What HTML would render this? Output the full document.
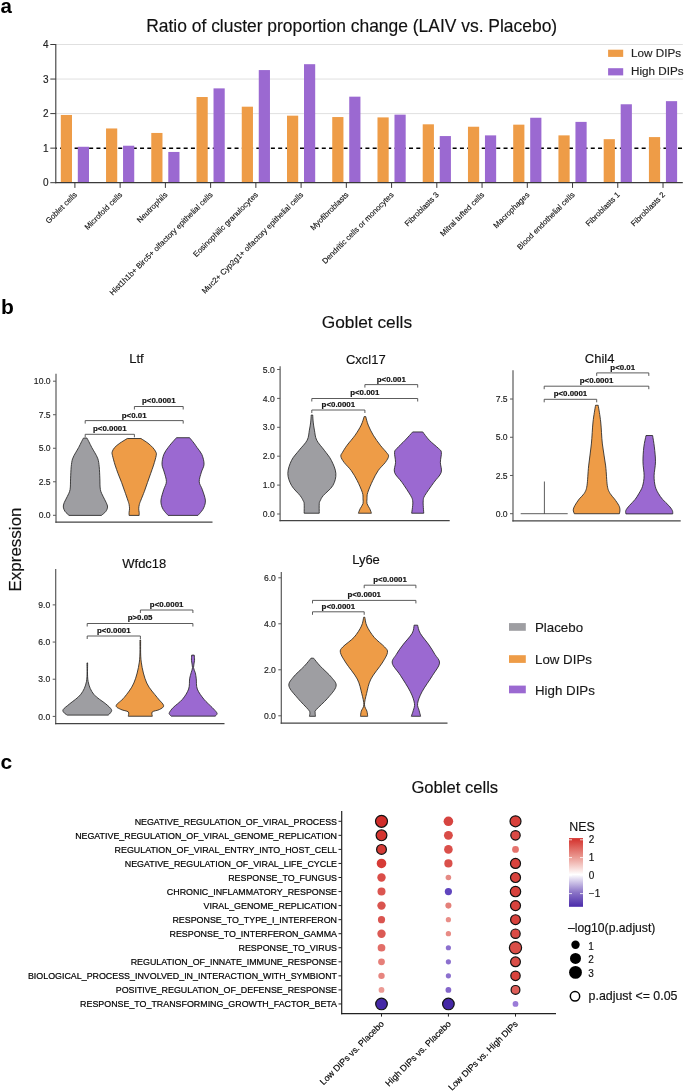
<!DOCTYPE html>
<html><head><meta charset="utf-8"><style>
html,body{margin:0;padding:0;background:#fff;overflow:hidden;}
svg{display:block;will-change:transform;}
text{font-family:"Liberation Sans", sans-serif;}
text.t{stroke:currentColor;}
</style></head><body>
<svg width="685" height="1092" viewBox="0 0 685 1092">
<rect width="685" height="1092" fill="#fff"/>
<text x="0.50" y="13.00" font-size="20.5" text-anchor="start" font-weight="bold" fill="#000" >a</text>
<text x="1.00" y="314.10" font-size="21" text-anchor="start" font-weight="bold" fill="#000" >b</text>
<text x="0.50" y="769.00" font-size="21" text-anchor="start" font-weight="bold" fill="#000" >c</text>
<line x1="55.80" y1="113.60" x2="682.80" y2="113.60" stroke="#dcdcdc" stroke-width="0.9" />
<line x1="55.80" y1="79.05" x2="682.80" y2="79.05" stroke="#dcdcdc" stroke-width="0.9" />
<line x1="55.80" y1="44.50" x2="682.80" y2="44.50" stroke="#dcdcdc" stroke-width="0.9" />
<line x1="55.80" y1="148.30" x2="682.80" y2="148.30" stroke="#000" stroke-width="1.6" stroke-dasharray="4.0 3.27" stroke-dashoffset="3.0"/>
<rect x="60.80" y="114.98" width="11.20" height="67.72" fill="#EE9C47"/>
<rect x="77.80" y="146.77" width="11.20" height="35.93" fill="#9B69D1"/>
<line x1="74.90" y1="182.70" x2="74.90" y2="187.90" stroke="#3a3a3a" stroke-width="1" />
<text x="0.00" y="0.00" font-size="7.8" text-anchor="end" font-weight="normal" fill="#111" stroke="#111" stroke-width="0.15" transform="translate(77.50,195.30) rotate(-45)">Goblet cells</text>
<rect x="106.04" y="128.46" width="11.20" height="54.24" fill="#EE9C47"/>
<rect x="123.04" y="145.73" width="11.20" height="36.97" fill="#9B69D1"/>
<line x1="120.14" y1="182.70" x2="120.14" y2="187.90" stroke="#3a3a3a" stroke-width="1" />
<text x="0.00" y="0.00" font-size="7.8" text-anchor="end" font-weight="normal" fill="#111" stroke="#111" stroke-width="0.15" transform="translate(122.74,195.30) rotate(-45)">Microfold cells</text>
<rect x="151.28" y="132.95" width="11.20" height="49.75" fill="#EE9C47"/>
<rect x="168.28" y="151.95" width="11.20" height="30.75" fill="#9B69D1"/>
<line x1="165.38" y1="182.70" x2="165.38" y2="187.90" stroke="#3a3a3a" stroke-width="1" />
<text x="0.00" y="0.00" font-size="7.8" text-anchor="end" font-weight="normal" fill="#111" stroke="#111" stroke-width="0.15" transform="translate(167.98,195.30) rotate(-45)">Neutrophils</text>
<rect x="196.52" y="97.02" width="11.20" height="85.68" fill="#EE9C47"/>
<rect x="213.52" y="88.38" width="11.20" height="94.32" fill="#9B69D1"/>
<line x1="210.62" y1="182.70" x2="210.62" y2="187.90" stroke="#3a3a3a" stroke-width="1" />
<text x="0.00" y="0.00" font-size="7.8" text-anchor="end" font-weight="normal" fill="#111" stroke="#111" stroke-width="0.15" transform="translate(213.22,195.30) rotate(-45)">Hist1h1b+ Birc5+ olfactory epithelial cells</text>
<rect x="241.76" y="106.69" width="11.20" height="76.01" fill="#EE9C47"/>
<rect x="258.76" y="70.07" width="11.20" height="112.63" fill="#9B69D1"/>
<line x1="255.86" y1="182.70" x2="255.86" y2="187.90" stroke="#3a3a3a" stroke-width="1" />
<text x="0.00" y="0.00" font-size="7.8" text-anchor="end" font-weight="normal" fill="#111" stroke="#111" stroke-width="0.15" transform="translate(258.46,195.30) rotate(-45)">Eosinophilic granulocytes</text>
<rect x="287.00" y="115.67" width="11.20" height="67.03" fill="#EE9C47"/>
<rect x="304.00" y="64.19" width="11.20" height="118.51" fill="#9B69D1"/>
<line x1="301.10" y1="182.70" x2="301.10" y2="187.90" stroke="#3a3a3a" stroke-width="1" />
<text x="0.00" y="0.00" font-size="7.8" text-anchor="end" font-weight="normal" fill="#111" stroke="#111" stroke-width="0.15" transform="translate(303.70,195.30) rotate(-45)">Muc2+ Cyp2g1+ olfactory epithelial cells</text>
<rect x="332.24" y="117.05" width="11.20" height="65.64" fill="#EE9C47"/>
<rect x="349.24" y="96.67" width="11.20" height="86.03" fill="#9B69D1"/>
<line x1="346.34" y1="182.70" x2="346.34" y2="187.90" stroke="#3a3a3a" stroke-width="1" />
<text x="0.00" y="0.00" font-size="7.8" text-anchor="end" font-weight="normal" fill="#111" stroke="#111" stroke-width="0.15" transform="translate(348.94,195.30) rotate(-45)">Myofibroblasts</text>
<rect x="377.48" y="117.40" width="11.20" height="65.30" fill="#EE9C47"/>
<rect x="394.48" y="114.64" width="11.20" height="68.06" fill="#9B69D1"/>
<line x1="391.58" y1="182.70" x2="391.58" y2="187.90" stroke="#3a3a3a" stroke-width="1" />
<text x="0.00" y="0.00" font-size="7.8" text-anchor="end" font-weight="normal" fill="#111" stroke="#111" stroke-width="0.15" transform="translate(394.18,195.30) rotate(-45)">Dendritic cells or monocytes</text>
<rect x="422.72" y="124.31" width="11.20" height="58.39" fill="#EE9C47"/>
<rect x="439.72" y="136.06" width="11.20" height="46.64" fill="#9B69D1"/>
<line x1="436.82" y1="182.70" x2="436.82" y2="187.90" stroke="#3a3a3a" stroke-width="1" />
<text x="0.00" y="0.00" font-size="7.8" text-anchor="end" font-weight="normal" fill="#111" stroke="#111" stroke-width="0.15" transform="translate(439.42,195.30) rotate(-45)">Fibroblasts 3</text>
<rect x="467.96" y="126.73" width="11.20" height="55.97" fill="#EE9C47"/>
<rect x="484.96" y="135.37" width="11.20" height="47.33" fill="#9B69D1"/>
<line x1="482.06" y1="182.70" x2="482.06" y2="187.90" stroke="#3a3a3a" stroke-width="1" />
<text x="0.00" y="0.00" font-size="7.8" text-anchor="end" font-weight="normal" fill="#111" stroke="#111" stroke-width="0.15" transform="translate(484.66,195.30) rotate(-45)">Mitral tufted cells</text>
<rect x="513.20" y="124.66" width="11.20" height="58.04" fill="#EE9C47"/>
<rect x="530.20" y="117.75" width="11.20" height="64.95" fill="#9B69D1"/>
<line x1="527.30" y1="182.70" x2="527.30" y2="187.90" stroke="#3a3a3a" stroke-width="1" />
<text x="0.00" y="0.00" font-size="7.8" text-anchor="end" font-weight="normal" fill="#111" stroke="#111" stroke-width="0.15" transform="translate(529.90,195.30) rotate(-45)">Macrophages</text>
<rect x="558.44" y="135.37" width="11.20" height="47.33" fill="#EE9C47"/>
<rect x="575.44" y="121.89" width="11.20" height="60.81" fill="#9B69D1"/>
<line x1="572.54" y1="182.70" x2="572.54" y2="187.90" stroke="#3a3a3a" stroke-width="1" />
<text x="0.00" y="0.00" font-size="7.8" text-anchor="end" font-weight="normal" fill="#111" stroke="#111" stroke-width="0.15" transform="translate(575.14,195.30) rotate(-45)">Blood endothelial cells</text>
<rect x="603.68" y="139.17" width="11.20" height="43.53" fill="#EE9C47"/>
<rect x="620.68" y="104.27" width="11.20" height="78.43" fill="#9B69D1"/>
<line x1="617.78" y1="182.70" x2="617.78" y2="187.90" stroke="#3a3a3a" stroke-width="1" />
<text x="0.00" y="0.00" font-size="7.8" text-anchor="end" font-weight="normal" fill="#111" stroke="#111" stroke-width="0.15" transform="translate(620.38,195.30) rotate(-45)">Fibroblasts 1</text>
<rect x="648.92" y="137.09" width="11.20" height="45.61" fill="#EE9C47"/>
<rect x="665.92" y="101.16" width="11.20" height="81.54" fill="#9B69D1"/>
<line x1="663.02" y1="182.70" x2="663.02" y2="187.90" stroke="#3a3a3a" stroke-width="1" />
<text x="0.00" y="0.00" font-size="7.8" text-anchor="end" font-weight="normal" fill="#111" stroke="#111" stroke-width="0.15" transform="translate(665.62,195.30) rotate(-45)">Fibroblasts 2</text>
<line x1="55.80" y1="44.00" x2="55.80" y2="183.20" stroke="#3a3a3a" stroke-width="1.1" />
<line x1="55.30" y1="182.70" x2="682.80" y2="182.70" stroke="#3a3a3a" stroke-width="1.2" />
<line x1="50.30" y1="182.70" x2="55.80" y2="182.70" stroke="#3a3a3a" stroke-width="1" />
<text x="48.60" y="186.30" font-size="10" text-anchor="end" font-weight="normal" fill="#222" stroke="#222" stroke-width="0.15" >0</text>
<line x1="50.30" y1="148.15" x2="55.80" y2="148.15" stroke="#3a3a3a" stroke-width="1" />
<text x="48.60" y="151.75" font-size="10" text-anchor="end" font-weight="normal" fill="#222" stroke="#222" stroke-width="0.15" >1</text>
<line x1="50.30" y1="113.60" x2="55.80" y2="113.60" stroke="#3a3a3a" stroke-width="1" />
<text x="48.60" y="117.20" font-size="10" text-anchor="end" font-weight="normal" fill="#222" stroke="#222" stroke-width="0.15" >2</text>
<line x1="50.30" y1="79.05" x2="55.80" y2="79.05" stroke="#3a3a3a" stroke-width="1" />
<text x="48.60" y="82.65" font-size="10" text-anchor="end" font-weight="normal" fill="#222" stroke="#222" stroke-width="0.15" >3</text>
<line x1="50.30" y1="44.50" x2="55.80" y2="44.50" stroke="#3a3a3a" stroke-width="1" />
<text x="48.60" y="48.10" font-size="10" text-anchor="end" font-weight="normal" fill="#222" stroke="#222" stroke-width="0.15" >4</text>
<text x="351.70" y="32.20" font-size="17.45" text-anchor="middle" font-weight="normal" fill="#111" stroke="#111" stroke-width="0.15" >Ratio of cluster proportion change (LAIV vs. Placebo)</text>
<rect x="608.10" y="49.70" width="15.10" height="7.20" fill="#EE9C47"/>
<rect x="608.10" y="68.20" width="15.10" height="7.20" fill="#9B69D1"/>
<text x="631.00" y="56.80" font-size="11.7" text-anchor="start" font-weight="normal" fill="#222" stroke="#222" stroke-width="0.15" >Low DIPs</text>
<text x="631.00" y="75.20" font-size="11.7" text-anchor="start" font-weight="normal" fill="#222" stroke="#222" stroke-width="0.15" >High DIPs</text>
<text x="366.90" y="327.60" font-size="17.3" text-anchor="middle" font-weight="normal" fill="#111" stroke="#111" stroke-width="0.15" >Goblet cells</text>
<text x="0.00" y="0.00" font-size="17" text-anchor="middle" font-weight="normal" fill="#111" stroke="#111" stroke-width="0.15" transform="translate(21.3,549.5) rotate(-90)">Expression</text>
<line x1="56.00" y1="373.70" x2="56.00" y2="522.80" stroke="#5a5a5a" stroke-width="1.2" />
<line x1="55.40" y1="522.20" x2="212.50" y2="522.20" stroke="#444" stroke-width="1.2" />
<line x1="53.00" y1="515.30" x2="56.00" y2="515.30" stroke="#5a5a5a" stroke-width="1" />
<text x="50.60" y="518.40" font-size="8.6" text-anchor="end" font-weight="normal" fill="#222" stroke="#222" stroke-width="0.15" >0.0</text>
<line x1="53.00" y1="481.77" x2="56.00" y2="481.77" stroke="#5a5a5a" stroke-width="1" />
<text x="50.60" y="484.88" font-size="8.6" text-anchor="end" font-weight="normal" fill="#222" stroke="#222" stroke-width="0.15" >2.5</text>
<line x1="53.00" y1="448.25" x2="56.00" y2="448.25" stroke="#5a5a5a" stroke-width="1" />
<text x="50.60" y="451.35" font-size="8.6" text-anchor="end" font-weight="normal" fill="#222" stroke="#222" stroke-width="0.15" >5.0</text>
<line x1="53.00" y1="414.72" x2="56.00" y2="414.72" stroke="#5a5a5a" stroke-width="1" />
<text x="50.60" y="417.82" font-size="8.6" text-anchor="end" font-weight="normal" fill="#222" stroke="#222" stroke-width="0.15" >7.5</text>
<line x1="53.00" y1="381.20" x2="56.00" y2="381.20" stroke="#5a5a5a" stroke-width="1" />
<text x="50.60" y="384.30" font-size="8.6" text-anchor="end" font-weight="normal" fill="#222" stroke="#222" stroke-width="0.15" >10.0</text>
<text x="136.50" y="363.00" font-size="13" text-anchor="middle" font-weight="normal" fill="#111" stroke="#111" stroke-width="0.15" >Ltf</text>
<path d="M83.47,438.06 L86.97,438.06 C87.26,438.61 87.92,439.81 88.72,441.39 C89.52,442.96 90.77,445.62 91.79,447.52 C92.81,449.42 93.83,450.88 94.85,452.77 C95.87,454.67 97.19,456.57 97.92,458.90 C98.65,461.24 98.91,463.58 99.23,466.79 C99.55,470.00 99.66,474.38 99.85,478.17 C100.04,481.97 99.82,486.49 100.37,489.56 C100.93,492.63 102.20,494.38 103.17,496.57 C104.15,498.76 105.51,500.95 106.24,502.70 C106.97,504.45 107.63,505.62 107.55,507.08 C107.48,508.54 106.82,510.07 105.80,511.46 C104.78,512.84 102.15,514.74 101.42,515.40 L69.01,515.40 C68.36,514.74 66.02,512.84 65.07,511.46 C64.12,510.07 63.47,508.54 63.32,507.08 C63.17,505.62 63.54,504.45 64.20,502.70 C64.85,500.95 66.28,498.76 67.26,496.57 C68.24,494.38 69.51,492.63 70.07,489.56 C70.62,486.49 70.40,481.97 70.59,478.17 C70.78,474.38 70.88,470.00 71.20,466.79 C71.53,463.58 71.79,461.24 72.52,458.90 C73.25,456.57 74.56,454.67 75.58,452.77 C76.61,450.88 77.63,449.42 78.65,447.52 C79.67,445.62 80.91,442.96 81.71,441.39 C82.52,439.81 83.17,438.61 83.47,438.06 Z" fill="#9E9EA2" stroke="#262626" stroke-width="0.85" stroke-linejoin="round"/>
<path d="M127.34,438.50 L140.91,438.50 C142.08,439.27 145.95,441.63 147.92,443.14 C149.89,444.64 151.42,446.06 152.74,447.52 C154.05,448.98 155.22,450.58 155.80,451.90 C156.39,453.21 156.60,453.21 156.24,455.40 C155.87,457.59 154.56,461.97 153.61,465.04 C152.66,468.10 151.57,470.87 150.55,473.79 C149.52,476.71 148.50,479.63 147.48,482.55 C146.46,485.47 145.51,488.39 144.41,491.31 C143.32,494.23 141.76,497.88 140.91,500.07 C140.06,502.26 139.70,502.99 139.33,504.45 C138.97,505.91 138.75,507.52 138.72,508.83 C138.69,510.14 139.09,511.24 139.16,512.33 C139.23,513.43 139.16,514.89 139.16,515.40 L129.09,515.40 C129.09,514.89 129.01,513.43 129.09,512.33 C129.16,511.24 129.52,510.14 129.52,508.83 C129.52,507.52 129.38,505.91 129.09,504.45 C128.79,502.99 128.50,502.26 127.77,500.07 C127.04,497.88 125.73,494.23 124.71,491.31 C123.69,488.39 122.74,485.47 121.64,482.55 C120.55,479.63 119.23,476.71 118.14,473.79 C117.04,470.87 116.02,468.10 115.07,465.04 C114.12,461.97 112.93,457.59 112.45,455.40 C111.96,453.21 111.82,453.21 112.18,451.90 C112.55,450.58 113.35,448.98 114.63,447.52 C115.92,446.06 117.77,444.64 119.89,443.14 C122.01,441.63 126.09,439.27 127.34,438.50 Z" fill="#EE9C47" stroke="#262626" stroke-width="0.85" stroke-linejoin="round"/>
<path d="M176.46,437.71 L189.60,437.71 C190.33,438.61 192.74,441.50 193.98,443.14 C195.22,444.77 195.73,445.62 197.04,447.52 C198.36,449.42 200.69,451.75 201.86,454.52 C203.03,457.30 204.12,461.24 204.05,464.16 C203.98,467.08 202.22,469.12 201.42,472.04 C200.62,474.96 199.09,478.76 199.23,481.68 C199.38,484.60 201.28,486.49 202.30,489.56 C203.32,492.63 205.07,497.15 205.36,500.07 C205.66,502.99 204.71,505.18 204.05,507.08 C203.39,508.98 202.44,510.07 201.42,511.46 C200.40,512.84 198.50,514.74 197.92,515.40 L168.14,515.40 C167.55,514.74 165.66,512.84 164.63,511.46 C163.61,510.07 162.62,508.98 162.01,507.08 C161.39,505.18 160.66,502.99 160.96,500.07 C161.25,497.15 162.85,492.63 163.76,489.56 C164.66,486.49 166.31,484.60 166.39,481.68 C166.46,478.76 164.93,474.96 164.20,472.04 C163.47,469.12 162.08,467.08 162.01,464.16 C161.93,461.24 162.74,457.30 163.76,454.52 C164.78,451.75 166.82,449.42 168.14,447.52 C169.45,445.62 170.26,444.77 171.64,443.14 C173.03,441.50 175.66,438.61 176.46,437.71 Z" fill="#9B69D1" stroke="#262626" stroke-width="0.85" stroke-linejoin="round"/>
<path d="M85.20,437.30 L85.20,434.30 L134.40,434.30 L134.40,437.30" fill="none" stroke="#4a4a4a" stroke-width="0.9"/>
<text x="109.80" y="431.20" font-size="7.9" text-anchor="middle" font-weight="bold" fill="#111" stroke="#111" stroke-width="0.2" >p&lt;0.0001</text>
<path d="M85.20,423.60 L85.20,420.60 L183.20,420.60 L183.20,423.60" fill="none" stroke="#4a4a4a" stroke-width="0.9"/>
<text x="134.20" y="417.50" font-size="7.9" text-anchor="middle" font-weight="bold" fill="#111" stroke="#111" stroke-width="0.2" >p&lt;0.01</text>
<path d="M134.40,409.50 L134.40,406.50 L183.20,406.50 L183.20,409.50" fill="none" stroke="#4a4a4a" stroke-width="0.9"/>
<text x="158.80" y="403.40" font-size="7.9" text-anchor="middle" font-weight="bold" fill="#111" stroke="#111" stroke-width="0.2" >p&lt;0.0001</text>
<line x1="280.10" y1="366.30" x2="280.10" y2="521.20" stroke="#5a5a5a" stroke-width="1.2" />
<line x1="279.50" y1="520.60" x2="449.70" y2="520.60" stroke="#444" stroke-width="1.2" />
<line x1="277.10" y1="514.00" x2="280.10" y2="514.00" stroke="#5a5a5a" stroke-width="1" />
<text x="274.70" y="517.10" font-size="8.6" text-anchor="end" font-weight="normal" fill="#222" stroke="#222" stroke-width="0.15" >0.0</text>
<line x1="277.10" y1="485.10" x2="280.10" y2="485.10" stroke="#5a5a5a" stroke-width="1" />
<text x="274.70" y="488.20" font-size="8.6" text-anchor="end" font-weight="normal" fill="#222" stroke="#222" stroke-width="0.15" >1.0</text>
<line x1="277.10" y1="456.20" x2="280.10" y2="456.20" stroke="#5a5a5a" stroke-width="1" />
<text x="274.70" y="459.30" font-size="8.6" text-anchor="end" font-weight="normal" fill="#222" stroke="#222" stroke-width="0.15" >2.0</text>
<line x1="277.10" y1="427.30" x2="280.10" y2="427.30" stroke="#5a5a5a" stroke-width="1" />
<text x="274.70" y="430.40" font-size="8.6" text-anchor="end" font-weight="normal" fill="#222" stroke="#222" stroke-width="0.15" >3.0</text>
<line x1="277.10" y1="398.40" x2="280.10" y2="398.40" stroke="#5a5a5a" stroke-width="1" />
<text x="274.70" y="401.50" font-size="8.6" text-anchor="end" font-weight="normal" fill="#222" stroke="#222" stroke-width="0.15" >4.0</text>
<line x1="277.10" y1="369.50" x2="280.10" y2="369.50" stroke="#5a5a5a" stroke-width="1" />
<text x="274.70" y="372.60" font-size="8.6" text-anchor="end" font-weight="normal" fill="#222" stroke="#222" stroke-width="0.15" >5.0</text>
<text x="365.80" y="364.20" font-size="13" text-anchor="middle" font-weight="normal" fill="#111" stroke="#111" stroke-width="0.15" >Cxcl17</text>
<path d="M311.20,415.04 L312.71,415.04 C312.79,416.21 312.93,419.57 313.21,422.08 C313.50,424.60 313.83,427.12 314.42,430.14 C315.01,433.16 315.09,436.85 316.74,440.21 C318.38,443.57 321.86,446.93 324.29,450.28 C326.72,453.64 329.41,456.49 331.34,460.35 C333.27,464.21 335.62,469.25 335.87,473.44 C336.12,477.64 334.95,481.84 332.85,485.53 C330.75,489.22 325.38,493.08 323.28,495.60 C321.18,498.12 320.93,499.29 320.26,500.63 C319.59,501.98 319.42,501.56 319.25,503.66 C319.09,505.75 319.25,511.63 319.25,513.22 L304.15,513.22 C304.15,511.63 304.32,505.75 304.15,503.66 C303.98,501.56 303.81,501.98 303.14,500.63 C302.47,499.29 302.05,498.12 300.12,495.60 C298.19,493.08 293.61,489.22 291.56,485.53 C289.51,481.84 287.83,477.64 287.83,473.44 C287.83,469.25 289.68,464.21 291.56,460.35 C293.44,456.49 296.51,453.64 299.11,450.28 C301.71,446.93 305.46,443.57 307.17,440.21 C308.88,436.85 308.80,433.16 309.38,430.14 C309.97,427.12 310.39,424.60 310.69,422.08 C311.00,419.57 311.11,416.21 311.20,415.04 Z" fill="#9E9EA2" stroke="#262626" stroke-width="0.85" stroke-linejoin="round"/>
<path d="M364.20,416.55 L365.71,416.55 C366.13,417.97 366.97,422.00 368.23,425.11 C369.48,428.21 371.25,431.82 373.26,435.18 C375.27,438.53 378.13,442.39 380.31,445.25 C382.49,448.10 384.98,450.45 386.35,452.30 C387.73,454.14 388.74,454.65 388.57,456.32 C388.40,458.00 387.06,460.02 385.35,462.37 C383.63,464.72 380.39,467.40 378.30,470.42 C376.20,473.44 374.52,476.80 372.76,480.49 C370.99,484.19 368.68,489.56 367.72,492.58 C366.77,495.60 367.13,496.77 367.02,498.62 C366.90,500.47 366.56,501.98 367.02,503.66 C367.47,505.33 369.00,507.10 369.74,508.69 C370.47,510.29 371.16,512.47 371.45,513.22 L358.36,513.22 C358.66,512.47 359.40,510.29 360.17,508.69 C360.94,507.10 362.52,505.33 362.99,503.66 C363.46,501.98 363.09,500.47 362.99,498.62 C362.89,496.77 363.36,495.60 362.38,492.58 C361.41,489.56 359.03,484.19 357.15,480.49 C355.27,476.80 353.29,473.44 351.11,470.42 C348.92,467.40 345.77,464.72 344.06,462.37 C342.34,460.02 341.09,458.00 340.83,456.32 C340.58,454.65 341.51,454.14 342.55,452.30 C343.59,450.45 344.98,448.10 347.08,445.25 C349.18,442.39 352.78,438.53 355.13,435.18 C357.48,431.82 359.67,428.21 361.18,425.11 C362.69,422.00 363.69,417.97 364.20,416.55 Z" fill="#EE9C47" stroke="#262626" stroke-width="0.85" stroke-linejoin="round"/>
<path d="M412.67,431.95 L422.74,431.95 C423.83,433.33 426.69,437.49 429.29,440.21 C431.89,442.93 436.34,446.25 438.35,448.27 C440.37,450.28 441.04,449.95 441.37,452.30 C441.71,454.65 440.40,459.01 440.37,462.37 C440.33,465.72 442.26,469.08 441.17,472.44 C440.08,475.79 436.56,478.65 433.82,482.51 C431.08,486.37 426.52,492.58 424.76,495.60 C422.99,498.62 423.50,498.96 423.25,500.63 C422.99,502.31 423.16,503.57 423.25,505.67 C423.33,507.77 423.67,511.96 423.75,513.22 L411.67,513.22 C411.83,511.96 412.50,507.77 412.67,505.67 C412.84,503.57 413.01,502.31 412.67,500.63 C412.34,498.96 412.42,498.62 410.66,495.60 C408.90,492.58 404.78,486.37 402.10,482.51 C399.41,478.65 395.64,475.79 394.55,472.44 C393.45,469.08 395.55,465.72 395.55,462.37 C395.55,459.01 394.29,454.65 394.55,452.30 C394.80,449.95 395.30,450.28 397.06,448.27 C398.83,446.25 402.52,442.93 405.12,440.21 C407.72,437.49 411.41,433.33 412.67,431.95 Z" fill="#9B69D1" stroke="#262626" stroke-width="0.85" stroke-linejoin="round"/>
<path d="M311.80,413.00 L311.80,410.00 L364.90,410.00 L364.90,413.00" fill="none" stroke="#4a4a4a" stroke-width="0.9"/>
<text x="338.35" y="406.90" font-size="7.9" text-anchor="middle" font-weight="bold" fill="#111" stroke="#111" stroke-width="0.2" >p&lt;0.0001</text>
<path d="M311.80,401.50 L311.80,398.50 L417.70,398.50 L417.70,401.50" fill="none" stroke="#4a4a4a" stroke-width="0.9"/>
<text x="364.75" y="395.40" font-size="7.9" text-anchor="middle" font-weight="bold" fill="#111" stroke="#111" stroke-width="0.2" >p&lt;0.001</text>
<path d="M364.90,387.60 L364.90,384.60 L417.70,384.60 L417.70,387.60" fill="none" stroke="#4a4a4a" stroke-width="0.9"/>
<text x="391.30" y="381.50" font-size="7.9" text-anchor="middle" font-weight="bold" fill="#111" stroke="#111" stroke-width="0.2" >p&lt;0.001</text>
<line x1="513.00" y1="370.30" x2="513.00" y2="521.40" stroke="#5a5a5a" stroke-width="1.2" />
<line x1="512.40" y1="520.80" x2="680.70" y2="520.80" stroke="#444" stroke-width="1.2" />
<line x1="510.00" y1="513.70" x2="513.00" y2="513.70" stroke="#5a5a5a" stroke-width="1" />
<text x="507.60" y="516.80" font-size="8.6" text-anchor="end" font-weight="normal" fill="#222" stroke="#222" stroke-width="0.15" >0.0</text>
<line x1="510.00" y1="475.48" x2="513.00" y2="475.48" stroke="#5a5a5a" stroke-width="1" />
<text x="507.60" y="478.58" font-size="8.6" text-anchor="end" font-weight="normal" fill="#222" stroke="#222" stroke-width="0.15" >2.5</text>
<line x1="510.00" y1="437.25" x2="513.00" y2="437.25" stroke="#5a5a5a" stroke-width="1" />
<text x="507.60" y="440.35" font-size="8.6" text-anchor="end" font-weight="normal" fill="#222" stroke="#222" stroke-width="0.15" >5.0</text>
<line x1="510.00" y1="399.03" x2="513.00" y2="399.03" stroke="#5a5a5a" stroke-width="1" />
<text x="507.60" y="402.13" font-size="8.6" text-anchor="end" font-weight="normal" fill="#222" stroke="#222" stroke-width="0.15" >7.5</text>
<text x="599.60" y="362.80" font-size="13" text-anchor="middle" font-weight="normal" fill="#111" stroke="#111" stroke-width="0.15" >Chil4</text>
<line x1="520.70" y1="513.70" x2="567.70" y2="513.70" stroke="#333" stroke-width="0.8" />
<line x1="544.40" y1="481.50" x2="544.40" y2="513.70" stroke="#333" stroke-width="0.8" />
<path d="M595.55,405.27 L598.19,405.27 C598.61,408.06 600.02,415.53 600.71,421.98 C601.41,428.42 601.54,436.63 602.36,443.96 C603.19,451.28 604.84,458.97 605.66,465.93 C606.48,472.89 606.58,481.14 607.31,485.71 C608.04,490.29 608.86,491.21 610.05,493.41 C611.25,495.60 612.99,496.89 614.45,498.90 C615.92,500.92 617.93,503.66 618.85,505.49 C619.76,507.33 619.85,508.52 619.95,509.89 C620.04,511.26 619.49,513.10 619.40,513.74 L574.34,513.74 C574.16,513.10 573.15,511.26 573.24,509.89 C573.33,508.52 573.88,507.33 574.89,505.49 C575.90,503.66 577.73,500.92 579.29,498.90 C580.84,496.89 582.95,495.60 584.23,493.41 C585.51,491.21 586.25,490.29 586.98,485.71 C587.71,481.14 587.89,472.89 588.63,465.93 C589.36,458.97 590.64,451.28 591.37,443.96 C592.11,436.63 592.33,428.42 593.02,421.98 C593.72,415.53 595.13,408.06 595.55,405.27 Z" fill="#EE9C47" stroke="#262626" stroke-width="0.85" stroke-linejoin="round"/>
<path d="M646.03,435.51 L652.60,435.51 C652.89,437.41 653.87,442.52 654.35,446.90 C654.83,451.28 655.53,456.97 655.49,461.79 C655.44,466.60 654.13,471.71 654.09,475.80 C654.04,479.89 654.52,483.39 655.23,486.31 C655.93,489.23 657.05,491.13 658.29,493.32 C659.53,495.51 660.92,497.41 662.67,499.45 C664.42,501.49 667.20,503.76 668.80,505.58 C670.41,507.41 671.65,509.01 672.30,510.40 C672.96,511.79 672.67,513.32 672.74,513.90 L625.88,513.90 C625.88,513.32 625.30,511.79 625.88,510.40 C626.47,509.01 627.85,507.41 629.39,505.58 C630.92,503.76 633.47,501.49 635.08,499.45 C636.69,497.41 637.78,495.51 639.02,493.32 C640.26,491.13 641.68,489.23 642.52,486.31 C643.37,483.39 644.03,479.89 644.10,475.80 C644.17,471.71 643.01,466.60 642.96,461.79 C642.92,456.97 643.33,451.28 643.84,446.90 C644.35,442.52 645.66,437.41 646.03,435.51 Z" fill="#9B69D1" stroke="#262626" stroke-width="0.85" stroke-linejoin="round"/>
<path d="M544.20,402.30 L544.20,399.30 L596.70,399.30 L596.70,402.30" fill="none" stroke="#4a4a4a" stroke-width="0.9"/>
<text x="570.45" y="396.20" font-size="7.9" text-anchor="middle" font-weight="bold" fill="#111" stroke="#111" stroke-width="0.2" >p&lt;0.0001</text>
<path d="M544.20,389.20 L544.20,386.20 L648.80,386.20 L648.80,389.20" fill="none" stroke="#4a4a4a" stroke-width="0.9"/>
<text x="596.50" y="383.10" font-size="7.9" text-anchor="middle" font-weight="bold" fill="#111" stroke="#111" stroke-width="0.2" >p&lt;0.0001</text>
<path d="M596.70,375.90 L596.70,372.90 L648.80,372.90 L648.80,375.90" fill="none" stroke="#4a4a4a" stroke-width="0.9"/>
<text x="622.75" y="369.80" font-size="7.9" text-anchor="middle" font-weight="bold" fill="#111" stroke="#111" stroke-width="0.2" >p&lt;0.01</text>
<line x1="55.70" y1="569.00" x2="55.70" y2="724.30" stroke="#5a5a5a" stroke-width="1.2" />
<line x1="55.10" y1="723.70" x2="224.50" y2="723.70" stroke="#444" stroke-width="1.2" />
<line x1="52.70" y1="716.40" x2="55.70" y2="716.40" stroke="#5a5a5a" stroke-width="1" />
<text x="50.30" y="719.50" font-size="8.6" text-anchor="end" font-weight="normal" fill="#222" stroke="#222" stroke-width="0.15" >0.0</text>
<line x1="52.70" y1="679.23" x2="55.70" y2="679.23" stroke="#5a5a5a" stroke-width="1" />
<text x="50.30" y="682.33" font-size="8.6" text-anchor="end" font-weight="normal" fill="#222" stroke="#222" stroke-width="0.15" >3.0</text>
<line x1="52.70" y1="642.06" x2="55.70" y2="642.06" stroke="#5a5a5a" stroke-width="1" />
<text x="50.30" y="645.16" font-size="8.6" text-anchor="end" font-weight="normal" fill="#222" stroke="#222" stroke-width="0.15" >6.0</text>
<line x1="52.70" y1="604.89" x2="55.70" y2="604.89" stroke="#5a5a5a" stroke-width="1" />
<text x="50.30" y="607.99" font-size="8.6" text-anchor="end" font-weight="normal" fill="#222" stroke="#222" stroke-width="0.15" >9.0</text>
<text x="144.30" y="568.20" font-size="13" text-anchor="middle" font-weight="normal" fill="#111" stroke="#111" stroke-width="0.15" >Wfdc18</text>
<path d="M86.98,662.92 L87.62,662.92 C87.70,666.00 87.09,676.17 88.10,681.39 C89.12,686.61 90.78,690.49 93.72,694.24 C96.67,697.98 102.82,701.33 105.77,703.87 C108.71,706.41 110.59,708.02 111.39,709.49 C112.19,710.96 111.12,711.77 110.59,712.70 C110.05,713.64 108.58,714.71 108.18,715.11 L67.23,715.11 C66.69,714.71 64.68,713.64 64.01,712.70 C63.35,711.77 62.28,710.96 63.21,709.49 C64.15,708.02 66.69,706.41 69.64,703.87 C72.58,701.33 78.07,697.98 80.88,694.24 C83.69,690.49 85.48,686.61 86.50,681.39 C87.51,676.17 86.90,666.00 86.98,662.92 Z" fill="#9E9EA2" stroke="#262626" stroke-width="0.85" stroke-linejoin="round"/>
<path d="M139.97,639.96 L140.62,639.96 C140.72,643.65 140.24,654.95 141.26,662.12 C142.28,669.29 144.07,677.11 146.72,683.00 C149.37,688.88 154.35,693.70 157.16,697.45 C159.97,701.20 163.18,703.47 163.58,705.48 C163.98,707.49 161.44,708.42 159.57,709.49 C157.69,710.56 153.54,710.78 152.34,711.90 C151.14,713.03 152.34,715.51 152.34,716.24 L128.25,716.24 C128.25,715.51 129.46,713.03 128.25,711.90 C127.05,710.78 123.03,710.56 121.02,709.49 C119.02,708.42 115.67,707.49 116.21,705.48 C116.74,703.47 121.29,701.20 124.24,697.45 C127.18,693.70 131.36,688.88 133.87,683.00 C136.39,677.11 138.31,669.29 139.33,662.12 C140.35,654.95 139.87,643.65 139.97,639.96 Z" fill="#EE9C47" stroke="#262626" stroke-width="0.85" stroke-linejoin="round"/>
<path d="M191.68,655.12 L194.23,655.12 C194.28,656.01 194.66,658.36 194.54,660.44 C194.42,662.52 193.40,665.55 193.52,667.59 C193.64,669.63 194.79,670.83 195.25,672.70 C195.71,674.57 195.94,676.11 196.28,678.83 C196.62,681.56 196.02,685.64 197.30,689.05 C198.58,692.46 201.47,696.20 203.94,699.27 C206.41,702.33 209.99,705.23 212.12,707.44 C214.24,709.66 215.95,711.36 216.71,712.55 C217.48,713.74 216.97,714.00 216.71,714.60 C216.46,715.19 215.44,715.87 215.18,716.13 L171.24,716.13 C170.99,715.87 170.01,715.19 169.71,714.60 C169.40,714.00 168.81,713.74 169.40,712.55 C170.00,711.36 171.10,709.66 173.28,707.44 C175.46,705.23 179.93,702.33 182.48,699.27 C185.04,696.20 187.42,692.46 188.61,689.05 C189.80,685.64 189.21,681.56 189.63,678.83 C190.06,676.11 190.69,674.57 191.17,672.70 C191.64,670.83 192.44,669.63 192.50,667.59 C192.55,665.55 191.61,662.52 191.47,660.44 C191.34,658.36 191.64,656.01 191.68,655.12 Z" fill="#9B69D1" stroke="#262626" stroke-width="0.85" stroke-linejoin="round"/>
<path d="M87.20,639.00 L87.20,636.00 L140.40,636.00 L140.40,639.00" fill="none" stroke="#4a4a4a" stroke-width="0.9"/>
<text x="113.80" y="632.90" font-size="7.9" text-anchor="middle" font-weight="bold" fill="#111" stroke="#111" stroke-width="0.2" >p&lt;0.0001</text>
<path d="M87.20,626.50 L87.20,623.50 L192.90,623.50 L192.90,626.50" fill="none" stroke="#4a4a4a" stroke-width="0.9"/>
<text x="140.05" y="620.40" font-size="7.9" text-anchor="middle" font-weight="bold" fill="#111" stroke="#111" stroke-width="0.2" >p&gt;0.05</text>
<path d="M140.40,613.00 L140.40,610.00 L192.90,610.00 L192.90,613.00" fill="none" stroke="#4a4a4a" stroke-width="0.9"/>
<text x="166.65" y="606.90" font-size="7.9" text-anchor="middle" font-weight="bold" fill="#111" stroke="#111" stroke-width="0.2" >p&lt;0.0001</text>
<line x1="281.30" y1="571.90" x2="281.30" y2="723.80" stroke="#5a5a5a" stroke-width="1.2" />
<line x1="280.70" y1="723.20" x2="447.50" y2="723.20" stroke="#444" stroke-width="1.2" />
<line x1="278.30" y1="715.80" x2="281.30" y2="715.80" stroke="#5a5a5a" stroke-width="1" />
<text x="275.90" y="718.90" font-size="8.6" text-anchor="end" font-weight="normal" fill="#222" stroke="#222" stroke-width="0.15" >0.0</text>
<line x1="278.30" y1="669.80" x2="281.30" y2="669.80" stroke="#5a5a5a" stroke-width="1" />
<text x="275.90" y="672.90" font-size="8.6" text-anchor="end" font-weight="normal" fill="#222" stroke="#222" stroke-width="0.15" >2.0</text>
<line x1="278.30" y1="623.80" x2="281.30" y2="623.80" stroke="#5a5a5a" stroke-width="1" />
<text x="275.90" y="626.90" font-size="8.6" text-anchor="end" font-weight="normal" fill="#222" stroke="#222" stroke-width="0.15" >4.0</text>
<line x1="278.30" y1="577.80" x2="281.30" y2="577.80" stroke="#5a5a5a" stroke-width="1" />
<text x="275.90" y="580.90" font-size="8.6" text-anchor="end" font-weight="normal" fill="#222" stroke="#222" stroke-width="0.15" >6.0</text>
<text x="366.00" y="563.90" font-size="13" text-anchor="middle" font-weight="normal" fill="#111" stroke="#111" stroke-width="0.15" >Ly6e</text>
<path d="M311.02,658.18 L313.59,658.18 C314.71,659.52 317.33,663.00 320.33,666.21 C323.33,669.42 328.95,674.10 331.57,677.45 C334.19,680.79 336.74,682.80 336.07,686.28 C335.40,689.76 330.85,694.44 327.56,698.33 C324.26,702.21 318.38,707.16 316.32,709.57 C314.25,711.98 315.32,711.65 315.19,712.78 C315.06,713.90 315.46,715.72 315.51,716.31 L309.41,716.31 C309.49,715.72 310.08,713.90 309.89,712.78 C309.70,711.65 310.29,711.98 308.29,709.57 C306.28,707.16 301.06,702.21 297.85,698.33 C294.64,694.44 289.82,689.76 289.01,686.28 C288.21,682.80 290.49,680.79 293.03,677.45 C295.57,674.10 301.27,669.42 304.27,666.21 C307.27,663.00 309.89,659.52 311.02,658.18 Z" fill="#9E9EA2" stroke="#262626" stroke-width="0.85" stroke-linejoin="round"/>
<path d="M363.69,617.23 L364.81,617.23 C365.16,618.70 365.35,622.71 366.90,626.06 C368.45,629.40 371.18,633.82 374.13,637.30 C377.07,640.78 382.34,644.39 384.57,646.94 C386.79,649.48 387.86,649.88 387.46,652.56 C387.06,655.23 384.91,658.58 382.16,663.00 C379.40,667.41 373.51,673.97 370.92,679.05 C368.32,684.14 367.65,689.22 366.58,693.51 C365.51,697.79 364.44,701.80 364.49,704.75 C364.55,707.69 366.37,709.25 366.90,711.17 C367.44,713.10 367.57,715.45 367.70,716.31 L360.48,716.31 C360.61,715.45 360.72,713.10 361.28,711.17 C361.84,709.25 363.77,707.69 363.85,704.75 C363.93,701.80 362.86,697.79 361.76,693.51 C360.67,689.22 359.89,684.14 357.27,679.05 C354.64,673.97 348.83,667.41 346.02,663.00 C343.21,658.58 340.94,655.23 340.40,652.56 C339.87,649.88 340.54,649.48 342.81,646.94 C345.09,644.39 350.95,640.78 354.05,637.30 C357.16,633.82 359.84,629.40 361.44,626.06 C363.05,622.71 363.31,618.70 363.69,617.23 Z" fill="#EE9C47" stroke="#262626" stroke-width="0.85" stroke-linejoin="round"/>
<path d="M414.10,625.18 L417.61,625.18 C418.05,626.55 418.38,630.05 420.29,633.36 C422.20,636.67 426.62,641.53 429.05,645.04 C431.48,648.54 433.14,651.36 434.89,654.38 C436.64,657.40 439.95,659.64 439.56,663.14 C439.17,666.64 435.47,670.63 432.55,675.40 C429.64,680.17 424.54,687.08 422.04,691.75 C419.55,696.42 418.09,700.32 417.61,703.43 C417.12,706.55 418.62,708.30 419.12,710.44 C419.63,712.58 420.39,715.30 420.64,716.28 L411.30,716.28 C411.63,715.30 412.76,712.58 413.28,710.44 C413.81,708.30 414.94,706.55 414.45,703.43 C413.97,700.32 412.70,696.42 410.36,691.75 C408.03,687.08 403.45,680.17 400.44,675.40 C397.42,670.63 392.94,666.64 392.26,663.14 C391.58,659.64 394.60,657.40 396.35,654.38 C398.10,651.36 400.15,648.54 402.77,645.04 C405.40,641.53 410.23,636.67 412.12,633.36 C414.00,630.05 413.77,626.55 414.10,625.18 Z" fill="#9B69D1" stroke="#262626" stroke-width="0.85" stroke-linejoin="round"/>
<path d="M312.50,614.80 L312.50,611.80 L364.20,611.80 L364.20,614.80" fill="none" stroke="#4a4a4a" stroke-width="0.9"/>
<text x="338.35" y="608.70" font-size="7.9" text-anchor="middle" font-weight="bold" fill="#111" stroke="#111" stroke-width="0.2" >p&lt;0.0001</text>
<path d="M312.50,603.40 L312.50,600.40 L415.90,600.40 L415.90,603.40" fill="none" stroke="#4a4a4a" stroke-width="0.9"/>
<text x="364.20" y="597.30" font-size="7.9" text-anchor="middle" font-weight="bold" fill="#111" stroke="#111" stroke-width="0.2" >p&lt;0.0001</text>
<path d="M364.20,588.20 L364.20,585.20 L415.90,585.20 L415.90,588.20" fill="none" stroke="#4a4a4a" stroke-width="0.9"/>
<text x="390.05" y="582.10" font-size="7.9" text-anchor="middle" font-weight="bold" fill="#111" stroke="#111" stroke-width="0.2" >p&lt;0.0001</text>
<rect x="509.00" y="623.10" width="16.80" height="7.70" fill="#9E9EA2"/>
<text x="535.00" y="632.00" font-size="13.3" text-anchor="start" font-weight="normal" fill="#1a1a1a" stroke="#1a1a1a" stroke-width="0.15" >Placebo</text>
<rect x="509.00" y="655.20" width="16.80" height="7.70" fill="#EE9C47"/>
<text x="535.00" y="664.10" font-size="13.3" text-anchor="start" font-weight="normal" fill="#1a1a1a" stroke="#1a1a1a" stroke-width="0.15" >Low DIPs</text>
<rect x="509.00" y="685.60" width="16.80" height="7.70" fill="#9B69D1"/>
<text x="535.00" y="694.50" font-size="13.3" text-anchor="start" font-weight="normal" fill="#1a1a1a" stroke="#1a1a1a" stroke-width="0.15" >High DIPs</text>
<text x="454.80" y="793.00" font-size="16.6" text-anchor="middle" font-weight="normal" fill="#111" stroke="#111" stroke-width="0.15" >Goblet cells</text>
<line x1="341.70" y1="810.90" x2="341.70" y2="1014.20" stroke="#222" stroke-width="1.2" />
<line x1="341.10" y1="1013.60" x2="556.00" y2="1013.60" stroke="#222" stroke-width="1.2" />
<line x1="338.50" y1="821.30" x2="341.70" y2="821.30" stroke="#222" stroke-width="1" />
<text x="337.00" y="824.60" font-size="8.9" text-anchor="end" font-weight="normal" fill="#000" stroke="#000" stroke-width="0.2" >NEGATIVE_REGULATION_OF_VIRAL_PROCESS</text>
<line x1="338.50" y1="835.35" x2="341.70" y2="835.35" stroke="#222" stroke-width="1" />
<text x="337.00" y="838.65" font-size="8.9" text-anchor="end" font-weight="normal" fill="#000" stroke="#000" stroke-width="0.2" >NEGATIVE_REGULATION_OF_VIRAL_GENOME_REPLICATION</text>
<line x1="338.50" y1="849.40" x2="341.70" y2="849.40" stroke="#222" stroke-width="1" />
<text x="337.00" y="852.70" font-size="8.9" text-anchor="end" font-weight="normal" fill="#000" stroke="#000" stroke-width="0.2" >REGULATION_OF_VIRAL_ENTRY_INTO_HOST_CELL</text>
<line x1="338.50" y1="863.45" x2="341.70" y2="863.45" stroke="#222" stroke-width="1" />
<text x="337.00" y="866.75" font-size="8.9" text-anchor="end" font-weight="normal" fill="#000" stroke="#000" stroke-width="0.2" >NEGATIVE_REGULATION_OF_VIRAL_LIFE_CYCLE</text>
<line x1="338.50" y1="877.50" x2="341.70" y2="877.50" stroke="#222" stroke-width="1" />
<text x="337.00" y="880.80" font-size="8.9" text-anchor="end" font-weight="normal" fill="#000" stroke="#000" stroke-width="0.2" >RESPONSE_TO_FUNGUS</text>
<line x1="338.50" y1="891.55" x2="341.70" y2="891.55" stroke="#222" stroke-width="1" />
<text x="337.00" y="894.85" font-size="8.9" text-anchor="end" font-weight="normal" fill="#000" stroke="#000" stroke-width="0.2" >CHRONIC_INFLAMMATORY_RESPONSE</text>
<line x1="338.50" y1="905.60" x2="341.70" y2="905.60" stroke="#222" stroke-width="1" />
<text x="337.00" y="908.90" font-size="8.9" text-anchor="end" font-weight="normal" fill="#000" stroke="#000" stroke-width="0.2" >VIRAL_GENOME_REPLICATION</text>
<line x1="338.50" y1="919.65" x2="341.70" y2="919.65" stroke="#222" stroke-width="1" />
<text x="337.00" y="922.95" font-size="8.9" text-anchor="end" font-weight="normal" fill="#000" stroke="#000" stroke-width="0.2" >RESPONSE_TO_TYPE_I_INTERFERON</text>
<line x1="338.50" y1="933.70" x2="341.70" y2="933.70" stroke="#222" stroke-width="1" />
<text x="337.00" y="937.00" font-size="8.9" text-anchor="end" font-weight="normal" fill="#000" stroke="#000" stroke-width="0.2" >RESPONSE_TO_INTERFERON_GAMMA</text>
<line x1="338.50" y1="947.75" x2="341.70" y2="947.75" stroke="#222" stroke-width="1" />
<text x="337.00" y="951.05" font-size="8.9" text-anchor="end" font-weight="normal" fill="#000" stroke="#000" stroke-width="0.2" >RESPONSE_TO_VIRUS</text>
<line x1="338.50" y1="961.80" x2="341.70" y2="961.80" stroke="#222" stroke-width="1" />
<text x="337.00" y="965.10" font-size="8.9" text-anchor="end" font-weight="normal" fill="#000" stroke="#000" stroke-width="0.2" >REGULATION_OF_INNATE_IMMUNE_RESPONSE</text>
<line x1="338.50" y1="975.85" x2="341.70" y2="975.85" stroke="#222" stroke-width="1" />
<text x="337.00" y="979.15" font-size="8.9" text-anchor="end" font-weight="normal" fill="#000" stroke="#000" stroke-width="0.2" >BIOLOGICAL_PROCESS_INVOLVED_IN_INTERACTION_WITH_SYMBIONT</text>
<line x1="338.50" y1="989.90" x2="341.70" y2="989.90" stroke="#222" stroke-width="1" />
<text x="337.00" y="993.20" font-size="8.9" text-anchor="end" font-weight="normal" fill="#000" stroke="#000" stroke-width="0.2" >POSITIVE_REGULATION_OF_DEFENSE_RESPONSE</text>
<line x1="338.50" y1="1003.95" x2="341.70" y2="1003.95" stroke="#222" stroke-width="1" />
<text x="337.00" y="1007.25" font-size="8.9" text-anchor="end" font-weight="normal" fill="#000" stroke="#000" stroke-width="0.2" >RESPONSE_TO_TRANSFORMING_GROWTH_FACTOR_BETA</text>
<line x1="381.50" y1="1013.60" x2="381.50" y2="1016.60" stroke="#222" stroke-width="1" />
<line x1="448.40" y1="1013.60" x2="448.40" y2="1016.60" stroke="#222" stroke-width="1" />
<line x1="515.50" y1="1013.60" x2="515.50" y2="1016.60" stroke="#222" stroke-width="1" />
<circle cx="381.5" cy="821.30" r="6.0" fill="#D12D2A" stroke="#111" stroke-width="1.2"/>
<circle cx="381.5" cy="835.35" r="5.4" fill="#D43530" stroke="#111" stroke-width="1.2"/>
<circle cx="381.5" cy="849.40" r="4.9" fill="#D43A35" stroke="#111" stroke-width="1.2"/>
<circle cx="381.5" cy="863.45" r="4.8" fill="#D63B36"/>
<circle cx="381.5" cy="877.50" r="4.2" fill="#DA4D48"/>
<circle cx="381.5" cy="891.55" r="4.0" fill="#DB5550"/>
<circle cx="381.5" cy="905.60" r="4.2" fill="#D9544E"/>
<circle cx="381.5" cy="919.65" r="3.6" fill="#DA5550"/>
<circle cx="381.5" cy="933.70" r="4.2" fill="#DB5A54"/>
<circle cx="381.5" cy="947.75" r="3.85" fill="#E26E68"/>
<circle cx="381.5" cy="961.80" r="3.4" fill="#E67F79"/>
<circle cx="381.5" cy="975.85" r="3.2" fill="#E7857F"/>
<circle cx="381.5" cy="989.90" r="2.9" fill="#EC9A94"/>
<circle cx="381.5" cy="1003.95" r="5.8" fill="#4528A6" stroke="#111" stroke-width="1.2"/>
<circle cx="448.4" cy="821.30" r="4.8" fill="#D64440"/>
<circle cx="448.4" cy="835.35" r="4.45" fill="#D94C47"/>
<circle cx="448.4" cy="849.40" r="4.3" fill="#DA4F4A"/>
<circle cx="448.4" cy="863.45" r="4.1" fill="#DA504B"/>
<circle cx="448.4" cy="877.50" r="2.8" fill="#E58A84"/>
<circle cx="448.4" cy="891.55" r="3.6" fill="#6045BE"/>
<circle cx="448.4" cy="905.60" r="3.05" fill="#E48079"/>
<circle cx="448.4" cy="919.65" r="2.6" fill="#E98E88"/>
<circle cx="448.4" cy="933.70" r="2.65" fill="#E88B85"/>
<circle cx="448.4" cy="947.75" r="2.6" fill="#8C70CE"/>
<circle cx="448.4" cy="961.80" r="2.6" fill="#8C70CE"/>
<circle cx="448.4" cy="975.85" r="2.6" fill="#8C70CE"/>
<circle cx="448.4" cy="989.90" r="2.9" fill="#8466CA"/>
<circle cx="448.4" cy="1003.95" r="5.8" fill="#4528A6" stroke="#111" stroke-width="1.2"/>
<circle cx="515.5" cy="821.30" r="5.5" fill="#D9403A" stroke="#111" stroke-width="1.2"/>
<circle cx="515.5" cy="835.35" r="4.7" fill="#DA4A45" stroke="#111" stroke-width="1.2"/>
<circle cx="515.5" cy="849.40" r="3.4" fill="#E5736D"/>
<circle cx="515.5" cy="863.45" r="5.0" fill="#D8423D" stroke="#111" stroke-width="1.2"/>
<circle cx="515.5" cy="877.50" r="5.0" fill="#D8423D" stroke="#111" stroke-width="1.2"/>
<circle cx="515.5" cy="891.55" r="5.2" fill="#D8423D" stroke="#111" stroke-width="1.2"/>
<circle cx="515.5" cy="905.60" r="5.0" fill="#D8423D" stroke="#111" stroke-width="1.2"/>
<circle cx="515.5" cy="919.65" r="4.9" fill="#D8423D" stroke="#111" stroke-width="1.2"/>
<circle cx="515.5" cy="933.70" r="4.7" fill="#DA4A45" stroke="#111" stroke-width="1.2"/>
<circle cx="515.5" cy="947.75" r="6.1" fill="#DA4E48" stroke="#111" stroke-width="1.2"/>
<circle cx="515.5" cy="961.80" r="4.9" fill="#DA4E48" stroke="#111" stroke-width="1.2"/>
<circle cx="515.5" cy="975.85" r="4.7" fill="#D8423D" stroke="#111" stroke-width="1.2"/>
<circle cx="515.5" cy="989.90" r="4.4" fill="#DE5E58" stroke="#111" stroke-width="1.2"/>
<circle cx="515.5" cy="1003.95" r="2.9" fill="#9A7BD8"/>
<text x="0.00" y="0.00" font-size="8.9" text-anchor="end" font-weight="normal" fill="#000" stroke="#000" stroke-width="0.15" transform="translate(384.50,1024.50) rotate(-45)">Low DIPs vs. Placebo</text>
<text x="0.00" y="0.00" font-size="8.9" text-anchor="end" font-weight="normal" fill="#000" stroke="#000" stroke-width="0.15" transform="translate(451.40,1024.50) rotate(-45)">High DIPs vs. Placebo</text>
<text x="0.00" y="0.00" font-size="8.9" text-anchor="end" font-weight="normal" fill="#000" stroke="#000" stroke-width="0.15" transform="translate(518.50,1024.50) rotate(-45)">Low DIPs vs. High DIPs</text>
<text x="569.30" y="831.20" font-size="12.4" text-anchor="start" font-weight="normal" fill="#111" stroke="#111" stroke-width="0.15" >NES</text>
<defs><linearGradient id="nes" x1="0" y1="0" x2="0" y2="1">
<stop offset="0" stop-color="#D32F2A"/>
<stop offset="0.26" stop-color="#E9938B"/>
<stop offset="0.53" stop-color="#FFFFFF"/>
<stop offset="0.79" stop-color="#8B74C7"/>
<stop offset="1" stop-color="#4A2BAA"/>
</linearGradient></defs>
<rect x="569.00" y="838.10" width="14.00" height="68.70" fill="url(#nes)"/>
<line x1="569.00" y1="839.80" x2="572.00" y2="839.80" stroke="#fff" stroke-width="0.8" />
<line x1="580.00" y1="839.80" x2="583.00" y2="839.80" stroke="#fff" stroke-width="0.8" />
<text x="588.80" y="843.40" font-size="10" text-anchor="start" font-weight="normal" fill="#111" stroke="#111" stroke-width="0.15" >2</text>
<line x1="569.00" y1="857.60" x2="572.00" y2="857.60" stroke="#fff" stroke-width="0.8" />
<line x1="580.00" y1="857.60" x2="583.00" y2="857.60" stroke="#fff" stroke-width="0.8" />
<text x="588.80" y="861.20" font-size="10" text-anchor="start" font-weight="normal" fill="#111" stroke="#111" stroke-width="0.15" >1</text>
<line x1="569.00" y1="875.70" x2="572.00" y2="875.70" stroke="#fff" stroke-width="0.8" />
<line x1="580.00" y1="875.70" x2="583.00" y2="875.70" stroke="#fff" stroke-width="0.8" />
<text x="588.80" y="879.30" font-size="10" text-anchor="start" font-weight="normal" fill="#111" stroke="#111" stroke-width="0.15" >0</text>
<line x1="569.00" y1="893.60" x2="572.00" y2="893.60" stroke="#fff" stroke-width="0.8" />
<line x1="580.00" y1="893.60" x2="583.00" y2="893.60" stroke="#fff" stroke-width="0.8" />
<text x="588.80" y="897.20" font-size="10" text-anchor="start" font-weight="normal" fill="#111" stroke="#111" stroke-width="0.15" >−1</text>
<text x="568.00" y="931.50" font-size="12.2" text-anchor="start" font-weight="normal" fill="#111" stroke="#111" stroke-width="0.15" >–log10(p.adjust)</text>
<circle cx="575.5" cy="944.7" r="4.2" fill="#000"/>
<text x="588.30" y="949.70" font-size="10" text-anchor="start" font-weight="normal" fill="#111" stroke="#111" stroke-width="0.15" >1</text>
<circle cx="575.5" cy="958.4" r="5.5" fill="#000"/>
<text x="588.30" y="963.40" font-size="10" text-anchor="start" font-weight="normal" fill="#111" stroke="#111" stroke-width="0.15" >2</text>
<circle cx="575.5" cy="972.4" r="6.4" fill="#000"/>
<text x="588.30" y="977.40" font-size="10" text-anchor="start" font-weight="normal" fill="#111" stroke="#111" stroke-width="0.15" >3</text>
<circle cx="575.0" cy="996.3" r="4.7" fill="#fff" stroke="#000" stroke-width="1.5"/>
<text x="588.60" y="1000.00" font-size="12.4" text-anchor="start" font-weight="normal" fill="#111" stroke="#111" stroke-width="0.15" >p.adjust &lt;= 0.05</text>
</svg>
</body></html>
